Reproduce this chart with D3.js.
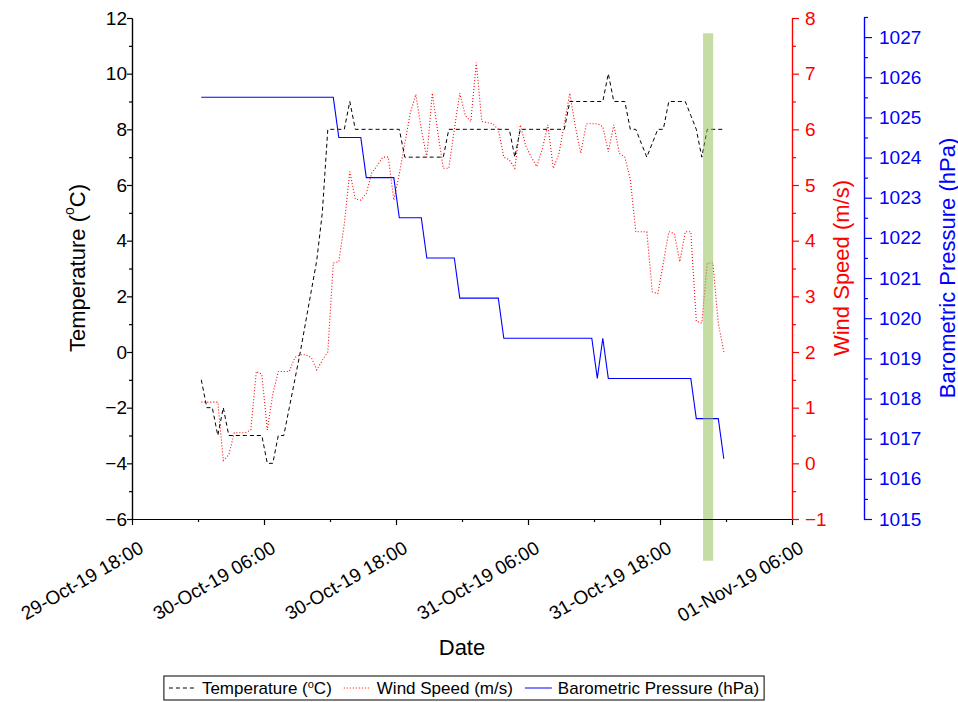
<!DOCTYPE html>
<html>
<head>
<meta charset="utf-8">
<script src="https://cdn.jsdelivr.net/npm/d3@7"></script>
<style>
body { margin: 0; background: #fff; }
svg text { font-family: "Liberation Sans", Arial, sans-serif; }
</style>
</head>
<body>
<div id="chart"></div>
<script>
// readings every 30 minutes, starting 30-Oct-19 00:18
var startTime = new Date(2019, 9, 30, 0, 18);
var stepMinutes = 30;

var temperature = [-1, -2, -2, -3, -2, -3, -3, -3, -3, -3, -3, -3,
  -4, -4, -3, -3, -2, -1, 0, 1.1, 2.2, 3.3, 5, 8,
  8, 8, 8, 9, 8, 8, 8, 8, 8, 8, 8, 8,
  8, 7, 7, 7, 7, 7, 7, 7, 7, 8, 8, 8,
  8, 8, 8, 8, 8, 8, 8, 8, 8, 7, 8, 8,
  8, 8, 8, 8, 8, 8, 8, 9, 9, 9, 9, 9,
  9, 9, 10, 9, 9, 9, 8, 8, 7.5, 7, 7.5, 8,
  8, 9, 9, 9, 9, 8.5, 8, 7, 8, 8, 8, 8];

var windSpeed = [1.1, 1.1, 1.1, 1.1, 0.05, 0.15, 0.55, 0.55, 0.55, 0.6, 1.65, 1.6,
  0.6, 1.25, 1.65, 1.65, 1.65, 1.9, 1.95, 1.95, 1.9, 1.68, 1.85, 2.0,
  3.6, 3.62, 4.3, 5.24, 4.75, 4.73, 4.85, 5.22, 5.35, 5.5, 5.5, 4.73,
  5.2, 5.75, 6.29, 6.63, 6.0, 5.5, 6.65, 5.95, 5.3, 5.3, 6.0, 6.65,
  6.25, 6.14, 7.2, 6.14, 6.12, 6.1, 6.0, 5.5, 5.45, 5.3, 6.08, 5.7,
  5.5, 5.33, 5.65, 6.08, 5.3, 5.55, 6.1, 6.65, 6.05, 5.57, 6.1, 6.1,
  6.1, 6.05, 5.6, 6.08, 5.57, 5.5, 5.1, 4.16, 4.16, 4.16, 3.08, 3.05,
  3.6, 4.16, 4.13, 3.62, 4.16, 4.16, 2.55, 2.52, 3.6, 3.6, 2.52, 2.0];

var pressure = [1025.5, 1025.5, 1025.5, 1025.5, 1025.5, 1025.5, 1025.5, 1025.5, 1025.5, 1025.5, 1025.5, 1025.5,
  1025.5, 1025.5, 1025.5, 1025.5, 1025.5, 1025.5, 1025.5, 1025.5, 1025.5, 1025.5, 1025.5, 1025.5,
  1025.5, 1024.5, 1024.5, 1024.5, 1024.5, 1024.5, 1023.5, 1023.5, 1023.5, 1023.5, 1023.5, 1023.5,
  1022.5, 1022.5, 1022.5, 1022.5, 1022.5, 1021.5, 1021.5, 1021.5, 1021.5, 1021.5, 1021.5, 1020.5,
  1020.5, 1020.5, 1020.5, 1020.5, 1020.5, 1020.5, 1020.5, 1019.5, 1019.5, 1019.5, 1019.5, 1019.5,
  1019.5, 1019.5, 1019.5, 1019.5, 1019.5, 1019.5, 1019.5, 1019.5, 1019.5, 1019.5, 1019.5, 1019.5,
  1018.5, 1019.5, 1018.5, 1018.5, 1018.5, 1018.5, 1018.5, 1018.5, 1018.5, 1018.5, 1018.5, 1018.5,
  1018.5, 1018.5, 1018.5, 1018.5, 1018.5, 1018.5, 1017.5, 1017.5, 1017.5, 1017.5, 1017.5, 1016.5];

var tempTicks = [-6, -4, -2, 0, 2, 4, 6, 8, 10, 12];
var tempMinor = [-5, -3, -1, 1, 3, 5, 7, 9, 11];
var windTicks = [-1, 0, 1, 2, 3, 4, 5, 6, 7, 8];
var windMinor = [-0.5, 0.5, 1.5, 2.5, 3.5, 4.5, 5.5, 6.5, 7.5];
var pressureTicks = [1015, 1016, 1017, 1018, 1019, 1020, 1021, 1022, 1023, 1024, 1025, 1026, 1027];
var pressureMinor = [1015.5, 1016.5, 1017.5, 1018.5, 1019.5, 1020.5, 1021.5, 1022.5, 1023.5, 1024.5, 1025.5, 1026.5, 1027.5];
var dateTicks = [new Date(2019, 9, 29, 18), new Date(2019, 9, 30, 6), new Date(2019, 9, 30, 18),
  new Date(2019, 9, 31, 6), new Date(2019, 9, 31, 18), new Date(2019, 10, 1, 6)];
var dateMinor = [new Date(2019, 9, 30, 0), new Date(2019, 9, 30, 12), new Date(2019, 9, 31, 0),
  new Date(2019, 9, 31, 12), new Date(2019, 10, 1, 0)];

// highlighted period (green band)
var markStart = new Date(2019, 9, 31, 21, 55);
var markEnd = new Date(2019, 9, 31, 22, 50);

var times = temperature.map(function(d, i) { return new Date(startTime.getTime() + i * stepMinutes * 60000); });

var svg = d3.select("#chart").append("svg")
  .attr("width", 958)
  .attr("height", 702);

var x = d3.scaleTime()
  .domain([dateTicks[0], dateTicks[dateTicks.length - 1]])
  .range([132, 792]);
var yT = d3.scaleLinear().domain([-6, 12]).range([519, 18]);
var yW = d3.scaleLinear().domain([-1, 8]).range([519, 18]);
var yP = d3.scaleLinear().domain([1015, 1027.5]).range([519, 17]);

function styleAxis(g, color) {
  g.selectAll("path, line").attr("stroke", color).attr("stroke-width", 1.2);
  g.selectAll("text").attr("fill", color).attr("font-size", 19)
    .attr("font-family", "Liberation Sans, Arial, sans-serif");
}

// lines
var line = function(arr, y) {
  return d3.line()
    .x(function(d, i) { return x(times[i]); })
    .y(function(d) { return y(d); })(arr);
};

svg.append("path")
  .attr("d", line(windSpeed, yW))
  .attr("fill", "none")
  .attr("stroke", "#ff0000")
  .attr("stroke-width", 1.1)
  .attr("stroke-dasharray", "1,2");

svg.append("path")
  .attr("d", line(temperature, yT))
  .attr("fill", "none")
  .attr("stroke", "#000")
  .attr("stroke-width", 1)
  .attr("stroke-dasharray", "4,3");

svg.append("path")
  .attr("d", line(pressure, yP))
  .attr("fill", "none")
  .attr("stroke", "#0000ff")
  .attr("stroke-width", 1.1);

// green band
svg.append("rect")
  .attr("x", x(markStart))
  .attr("width", x(markEnd) - x(markStart))
  .attr("y", yT(11.45))
  .attr("height", yT(-7.5) - yT(11.45))
  .attr("fill", "#8cb94b")
  .attr("opacity", 0.5);

// Left axis
var gl = svg.append("g").attr("transform", "translate(132,0)");
gl.call(d3.axisLeft(yT).tickValues(tempMinor).tickSize(3).tickFormat("").tickSizeOuter(0));
gl.append("g").call(d3.axisLeft(yT).tickValues(tempTicks).tickSize(5).tickPadding(0).tickSizeOuter(0));
styleAxis(gl, "#000");

// Bottom axis
var gb = svg.append("g").attr("transform", "translate(0,519)");
gb.call(d3.axisBottom(x).tickValues(dateMinor).tickSize(3).tickFormat("").tickSizeOuter(0));
gb.append("g").call(d3.axisBottom(x).tickValues(dateTicks).tickSize(6).tickSizeOuter(0)
    .tickFormat(d3.timeFormat("%d-%b-%y %H:%M")))
  .selectAll("text")
    .attr("x", 0).attr("y", 0).attr("dy", "0.35em")
    .attr("transform", "translate(9,27) rotate(-30)")
    .style("text-anchor", "end");
styleAxis(gb, "#000");

// Wind axis
var gw = svg.append("g").attr("transform", "translate(792,0)");
gw.call(d3.axisRight(yW).tickValues(windMinor).tickSize(4).tickFormat("").tickSizeOuter(0));
gw.append("g").call(d3.axisRight(yW).tickValues(windTicks).tickSize(7).tickPadding(6).tickSizeOuter(0));
styleAxis(gw, "#ff0000");

// Pressure axis
var gp = svg.append("g").attr("transform", "translate(864,0)");
gp.call(d3.axisRight(yP).tickValues(pressureMinor).tickSize(4).tickFormat("").tickSizeOuter(0));
gp.append("g").call(d3.axisRight(yP).tickValues(pressureTicks).tickSize(8).tickPadding(7)
  .tickSizeOuter(0).tickFormat(d3.format("d")));
styleAxis(gp, "#0000ff");

// titles
svg.append("text")
  .attr("x", 462).attr("y", 655)
  .attr("text-anchor", "middle")
  .style("font-size", "22px")
  .text("Date");

var tt = svg.append("text")
  .attr("transform", "translate(77,268) rotate(-90)")
  .attr("text-anchor", "middle")
  .attr("dominant-baseline", "central")
  .style("font-size", "22px");
tt.append("tspan").text("Temperature (");
tt.append("tspan").attr("dy", -8).style("font-size", "14px").text("o");
tt.append("tspan").attr("dy", 8).text("C)");

svg.append("text")
  .attr("transform", "translate(841,268) rotate(-90)")
  .attr("text-anchor", "middle")
  .attr("dominant-baseline", "central")
  .attr("fill", "#ff0000")
  .style("font-size", "22px")
  .text("Wind Speed (m/s)");

svg.append("text")
  .attr("transform", "translate(947,268) rotate(-90)")
  .attr("text-anchor", "middle")
  .attr("dominant-baseline", "central")
  .attr("fill", "#0000ff")
  .style("font-size", "22px")
  .text("Barometric Pressure (hPa)");

// legend
var legendItems = [
  {label: ["Temperature (", "o", "C)"], color: "#000", dash: "4,3"},
  {label: ["Wind Speed (m/s)"], color: "#ff0000", dash: "1,2"},
  {label: ["Barometric Pressure (hPa)"], color: "#0000ff", dash: null}
];
var lg = svg.append("g");
var cx = 0;
legendItems.forEach(function(it) {
  var item = lg.append("g").attr("transform", "translate(" + cx + ",0)");
  item.append("line")
    .attr("x1", 0).attr("x2", 27).attr("y1", 0).attr("y2", 0)
    .attr("stroke", it.color).attr("stroke-width", 1)
    .attr("stroke-dasharray", it.dash);
  var t = item.append("text").attr("x", 33).attr("y", 6).style("font-size", "17px");
  if (it.label.length === 3) {
    t.append("tspan").text(it.label[0]);
    t.append("tspan").attr("dy", -6).style("font-size", "11px").text(it.label[1]);
    t.append("tspan").attr("dy", 6).text(it.label[2]);
  } else {
    t.text(it.label[0]);
  }
  cx += 33 + t.node().getComputedTextLength() + 12;
});
var lw = cx - 12;
var lx = 464 - lw / 2;
lg.attr("transform", "translate(" + lx + ",688)");
svg.insert("rect", "g")
  .attr("x", lx - 5).attr("y", 676)
  .attr("width", lw + 10).attr("height", 24)
  .attr("fill", "none").attr("stroke", "#000").attr("stroke-width", 1);
</script>
</body>
</html>
